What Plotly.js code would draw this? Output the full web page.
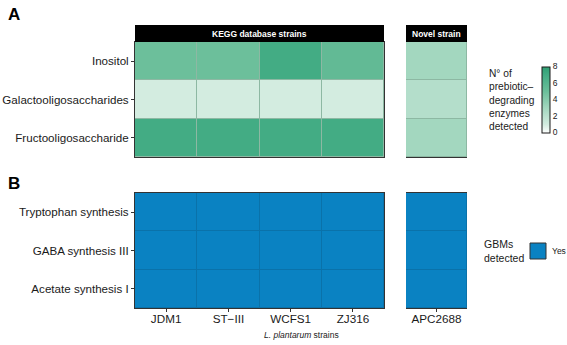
<!DOCTYPE html>
<html><head><meta charset="utf-8">
<script src="https://cdn.plot.ly/plotly-3.0.1.min.js"></script>
<style>html,body{margin:0;padding:0;background:#fff}#chart{width:567px;height:345px}</style>
</head><body><div id="chart"></div>
<script>
// ---- data ----
var keggStrains = ['JDM1', 'ST\u2212III', 'WCFS1', 'ZJ316'];
var novelStrains = ['APC2688'];
var prebiotics = ['Inositol', 'Galactooligosaccharides', 'Fructooligosaccharide'];
var gbms = ['Tryptophan synthesis', 'GABA synthesis III', 'Acetate synthesis I'];
// enzymes detected (rows = prebiotics, cols = strains)
var keggEnzymes = [
  [5, 5, 7, 5.5],
  [1, 1, 1, 1],
  [7, 7, 7, 7]
];
var novelEnzymes = [[3], [2.3], [3]];
// GBMs detected: 1 = Yes
var keggGBM = [[1, 1, 1, 1], [1, 1, 1, 1], [1, 1, 1, 1]];
var novelGBM = [[1], [1], [1]];
var gbmLegend = ['Yes'];

var W = 567, H = 345;
function px(x) { return x / W; }
function py(y) { return 1 - y / H; }

var font = 'Liberation Sans, Arial, sans-serif';
var blue = '#0A82C2';
var blueScale = [[0, blue], [1, blue]];

var traces = [
  {type: 'heatmap', x: keggStrains, y: prebiotics, z: keggEnzymes, xaxis: 'x', yaxis: 'y',
   coloraxis: 'coloraxis', xgap: 1, ygap: 1},
  {type: 'heatmap', x: novelStrains, y: prebiotics, z: novelEnzymes, xaxis: 'x2', yaxis: 'y',
   coloraxis: 'coloraxis', xgap: 1, ygap: 1},
  {type: 'heatmap', x: keggStrains, y: gbms, z: keggGBM, xaxis: 'x3', yaxis: 'y2',
   colorscale: blueScale, showscale: false, xgap: 1, ygap: 1, zmin: 0, zmax: 1},
  {type: 'heatmap', x: novelStrains, y: gbms, z: novelGBM, xaxis: 'x4', yaxis: 'y2',
   colorscale: blueScale, showscale: false, xgap: 1, ygap: 1, zmin: 0, zmax: 1},
  // legend key for panel B (its label is drawn as an annotation next to it)
  {type: 'scatter', mode: 'markers', x: [null], y: [null], xaxis: 'x3', yaxis: 'y2',
   name: ' ', showlegend: true,
   marker: {symbol: 'square', size: 16, color: blue, line: {color: '#333333', width: 1}}}
];

var xA = [px(135), px(384)], xN = [px(406), px(467)];
var yA = [py(157), py(42)], yB = [py(308), py(193)];
var lineCol = '#333333';
function xax(domain, anchor, showLabels) {
  return {domain: domain, anchor: anchor, type: 'category', showgrid: false, zeroline: false,
    showline: true, mirror: true, linecolor: lineCol, linewidth: 1,
    ticks: showLabels ? 'outside' : '', ticklen: 3, tickcolor: lineCol,
    showticklabels: showLabels, tickfont: {family: font, size: 11.7, color: '#1a1a1a'},
    ticklabelstandoff: -3, fixedrange: true, automargin: false};
}
function yax(domain, anchor) {
  return {domain: domain, anchor: anchor, type: 'category', autorange: 'reversed',
    showgrid: false, zeroline: false, showline: true, mirror: true, linecolor: lineCol, linewidth: 1,
    ticks: 'outside', ticklen: 3, tickcolor: lineCol,
    tickfont: {family: font, size: 11.6, color: '#1a1a1a'}, fixedrange: true, automargin: false};
}

var shapes = [];
// strip headers
[[135, 384], [406, 467]].forEach(function (s) {
  shapes.push({type: 'rect', xref: 'paper', yref: 'paper', x0: px(s[0]), x1: px(s[1]),
    y0: py(42), y1: py(25), fillcolor: '#000000', line: {width: 0}, layer: 'above'});
});
// cell border colours (behind the cells, visible through the gaps)
[['x', 'y', '#8DB8A3'], ['x2', 'y', '#8DB8A3'], ['x3', 'y2', '#0A72AA'], ['x4', 'y2', '#0A72AA']].forEach(function (a) {
  shapes.push({type: 'rect', xref: a[0] + ' domain', yref: a[1] + ' domain', x0: 0, x1: 1, y0: 0, y1: 1,
    fillcolor: a[2], line: {width: 0}, layer: 'below'});
});

var annotations = [
  {text: '<b>A</b>', xref: 'paper', yref: 'paper', x: px(6), y: py(3), xanchor: 'left', yanchor: 'top',
   showarrow: false, font: {family: font, size: 17, color: '#000'}},
  {text: '<b>B</b>', xref: 'paper', yref: 'paper', x: px(6), y: py(172), xanchor: 'left', yanchor: 'top',
   showarrow: false, font: {family: font, size: 17, color: '#000'}},
  {text: '<b>KEGG database strains</b>', xref: 'paper', yref: 'paper', x: px(259.5), y: py(33.5),
   xanchor: 'center', yanchor: 'middle', showarrow: false, font: {family: font, size: 8.5, color: '#fff'}},
  {text: '<b>Novel strain</b>', xref: 'paper', yref: 'paper', x: px(436.5), y: py(33.5),
   xanchor: 'center', yanchor: 'middle', showarrow: false, font: {family: font, size: 8.5, color: '#fff'}},
  {text: 'N\u00b0 of<br>prebiotic\u2013<br>degrading<br>enzymes<br>detected', xref: 'paper', yref: 'paper',
   x: px(487), y: py(99.5), xanchor: 'left', yanchor: 'middle', align: 'left', showarrow: false,
   font: {family: font, size: 10.2, color: '#1a1a1a'}},
  {text: 'GBMs<br>detected', xref: 'paper', yref: 'paper',
   x: px(482), y: py(251), xanchor: 'left', yanchor: 'middle', align: 'left', showarrow: false,
   font: {family: font, size: 10.5, color: '#1a1a1a'}},
  {text: gbmLegend[0], xref: 'paper', yref: 'paper',
   x: px(550), y: py(251), xanchor: 'left', yanchor: 'middle', align: 'left', showarrow: false,
   font: {family: font, size: 8.5, color: '#1a1a1a'}},
  {text: '<i>L. plantarum</i> strains', xref: 'paper', yref: 'paper', x: px(301), y: py(335),
   xanchor: 'center', yanchor: 'middle', showarrow: false, font: {family: font, size: 8.5, color: '#1a1a1a'}}
];

var layout = {
  width: W, height: H, margin: {l: 0, r: 0, t: 0, b: 0, autoexpand: false},
  paper_bgcolor: '#ffffff', plot_bgcolor: 'rgba(0,0,0,0)',
  font: {family: font},
  xaxis: xax(xA, 'y', false), xaxis2: xax(xN, 'y', false),
  xaxis3: xax(xA, 'y2', true), xaxis4: xax(xN, 'y2', true),
  yaxis: yax(yA, 'x'), yaxis2: yax(yB, 'x3'),
  coloraxis: {cmin: 0, cmax: 8,
    colorscale: [[0, '#FFFFFF'], [0.125, '#D3ECE0'], [0.375, '#A3D7BF'], [0.625, '#6CBF9B'], [0.875, '#43AC84'], [1, '#2F9F73']],
    colorbar: {x: px(542), xanchor: 'left', y: py(99.5), yanchor: 'middle', lenmode: 'pixels', len: 66,
      thickness: 8, outlinecolor: '#1a1a1a', outlinewidth: 1, ticks: '', tickvals: [0, 2, 4, 6, 8],
      tickfont: {family: font, size: 8.5, color: '#1a1a1a'}, xpad: 0, ypad: 0, borderwidth: 0}},
  showlegend: true,
  legend: {x: px(518), y: py(251), xanchor: 'left', yanchor: 'middle', bgcolor: 'rgba(0,0,0,0)',
    font: {family: font, size: 8.5, color: '#1a1a1a'}, itemwidth: 30, tracegroupgap: 0},
  shapes: shapes, annotations: annotations
};

Plotly.newPlot('chart', traces, layout, {displayModeBar: false, staticPlot: true});
</script></body></html>
